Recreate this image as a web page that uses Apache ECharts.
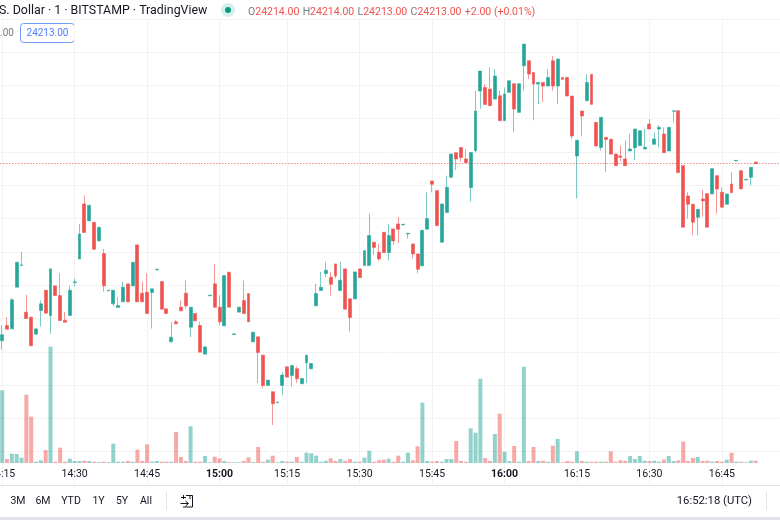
<!DOCTYPE html>
<html>
<head>
<meta charset="utf-8">
<title>BTC/USD 1 min</title>
<script src="https://cdn.jsdelivr.net/npm/echarts@6/dist/echarts.min.js"></script>
<style>
html, body { margin: 0; padding: 0; background: #fff; overflow: hidden; }
#chart { width: 780px; height: 520px; }
</style>
</head>
<body>
<div id="chart"></div>
<script>
// minutes, first one is an empty slot left of the first bar, last ones are the empty space on the right
var times = [
    '14:14', '14:15', '14:16', '14:17', '14:18', '14:19', '14:20', '14:21', '14:22', '14:23', '14:24', '14:25', '14:26', '14:27', '14:28', '14:29',
    '14:30', '14:31', '14:32', '14:33', '14:34', '14:35', '14:36', '14:37', '14:38', '14:39', '14:40', '14:41', '14:42', '14:43', '14:44',
    '14:45', '14:46', '14:47', '14:48', '14:49', '14:50', '14:51', '14:52', '14:53', '14:54', '14:55', '14:56', '14:57', '14:58', '14:59',
    '15:00', '15:01', '15:02', '15:03', '15:04', '15:05', '15:06', '15:08', '15:09', '15:10', '15:11', '15:12', '15:13', '15:14',
    '15:15', '15:16', '15:17', '15:18', '15:19', '15:20', '15:21', '15:22', '15:23', '15:24', '15:25', '15:26', '15:27', '15:28', '15:29',
    '15:30', '15:31', '15:32', '15:33', '15:34', '15:35', '15:36', '15:37', '15:38', '15:39', '15:40', '15:41', '15:42', '15:43', '15:44',
    '15:45', '15:46', '15:47', '15:48', '15:49', '15:50', '15:51', '15:52', '15:53', '15:54', '15:55', '15:56', '15:57', '15:58', '15:59',
    '16:00', '16:01', '16:02', '16:03', '16:04', '16:05', '16:06', '16:07', '16:08', '16:09', '16:10', '16:11', '16:12', '16:13', '16:14',
    '16:15', '16:16', '16:17', '16:18', '16:19', '16:20', '16:21', '16:22', '16:23', '16:24', '16:25', '16:26', '16:27', '16:28', '16:29',
    '16:30', '16:31', '16:32', '16:33', '16:34', '16:35', '16:36', '16:37', '16:38', '16:39', '16:40', '16:41', '16:42', '16:43', '16:44',
    '16:45', '16:46', '16:47', '16:48', '16:49', '16:50', '16:51', '16:52', '16:53', '16:54', '16:55', '16:56', '16:57'
];
var tickLabels = ['14:15', '14:30', '14:45', '15:00', '15:15', '15:30', '15:45', '16:00', '16:15', '16:30', '16:45'];
var boldLabels = ['15:00', '16:00'];

var opens = [
    24106.6, 24115.8, 24113.8, 24138.8, 24151.8, 24123.8, 24120.8, 24110.6, 24124.8, 24137,
    24121.8, 24139.6, 24133.8, 24119, 24121.8, 24141.6, 24155.8, 24188.8, 24178.6, 24177.8,
    24166.6, 24159, 24136.6, 24128.8, 24126.6, 24130, 24140.8, 24139.6, 24164.2, 24135.2,
    24135.8, 24135.6, 24149.2, 24142.2, 24125.8, 24106, 24118, 24126.8, 24135.2, 24114.8,
    24123, 24115.8, 24098.6, 24133.6, 24140.8, 24126.8, 24115.6, 24147.8, 24110.4, 24123.8,
    24130.8, 24135, 24106, 24109, 24098, 24079.8, 24076, 24069.4, 24079.8, 24091,
    24085.8, 24089.8, 24080.8, 24093.4, 24089.8, 24127.6, 24136.8, 24147, 24144.8, 24152.8,
    24136.8, 24149.8, 24131.8, 24131.8, 24149.8, 24151.8, 24151.8, 24165.8, 24159.8, 24171.8,
    24159.6, 24173.8, 24176.8, 24176.2, 24170.8, 24164.8, 24158.8, 24151.6, 24173.6, 24202.6,
    24196.8, 24165.8, 24183.6, 24204.8, 24219.6, 24222.7, 24215.8, 24198.6, 24220.8, 24256.6,
    24258.8, 24257.8, 24251.8, 24253.8, 24238.8, 24255.8, 24261, 24243.8, 24271.8, 24274.8,
    24267.8, 24260.8, 24261.8, 24259.6, 24274.8, 24259.6, 24264.8, 24264.8, 24253.6, 24217.6,
    24244.6, 24250.8, 24266.6, 24237.8, 24222.7, 24228.8, 24227.7, 24218.8, 24217.6, 24215.8,
    24220.6, 24222.6, 24223.8, 24221.8, 24236.8, 24224.6, 24233.8, 24230.8, 24220.6, 24244.4,
    24244.8, 24211.8, 24193.6, 24188.6, 24180.8, 24191.8, 24195, 24194.8, 24205.8, 24195.8,
    24188.6, 24200.8, 24214.6, 24208.8, 24203.2, 24204.8, 24214
];
var closes = [
    24110.2, 24113.6, 24131.2, 24153.8, 24152.2, 24120, 24103.6, 24113.8, 24128.8, 24123.2,
    24149.8, 24133.8, 24118.8, 24117.8, 24137, 24142, 24170.8, 24171.6, 24188, 24161.6,
    24174.8, 24139.6, 24137, 24137, 24127.8, 24138.8, 24130, 24153.8, 24130, 24130,
    24123, 24137.8, 24149.6, 24125.6, 24123, 24108.8, 24116.8, 24124.6, 24127.6, 24126.8,
    24118.6, 24099.8, 24103, 24134, 24126.8, 24118, 24145.8, 24126.8, 24110.8, 24126.8,
    24123, 24118, 24111.8, 24099.6, 24079.8, 24083, 24068.8, 24069.8, 24086, 24084.8,
    24091.8, 24083.8, 24084, 24098, 24093, 24135, 24138.8, 24149, 24140.6, 24145.6,
    24143, 24125.6, 24120.6, 24148, 24144.6, 24160.8, 24169.8, 24162.7, 24155.8, 24159.6,
    24169.8, 24166.6, 24173.6, 24176.6, 24171.2, 24158.8, 24149.6, 24173, 24180, 24200.6,
    24175.8, 24188.8, 24198.8, 24218.8, 24215.8, 24216.7, 24213.6, 24219.7, 24244.6, 24268.6,
    24248.6, 24247.8, 24265.6, 24238.8, 24254.8, 24262.8, 24245.8, 24261, 24284.8, 24266.8,
    24260.8, 24261.8, 24259.6, 24264.8, 24259.6, 24275.8, 24263.6, 24253.6, 24229.6, 24227,
    24241.6, 24261.8, 24248.6, 24223.6, 24240.8, 24227.5, 24218.7, 24211.8, 24216.8, 24211.8,
    24221.8, 24233.8, 24232.8, 24222.8, 24233.8, 24227.8, 24234.8, 24219.6, 24234.8, 24244.8,
    24207.6, 24174.8, 24188.6, 24177.8, 24185.6, 24190.6, 24174.8, 24210, 24197.8, 24186.8,
    24194.8, 24195.6, 24215, 24197.8, 24203.6, 24210.8, 24213
];
var lows = [
    24101.2, 24113.6, 24113.8, 24138.8, 24151.8, 24120, 24103.6, 24110.6, 24115.2, 24123.2,
    24110.8, 24133.8, 24118.8, 24117.8, 24121.8, 24139.2, 24155.8, 24171.6, 24178.6, 24161.6,
    24166.6, 24136.2, 24136.6, 24127.2, 24126.6, 24130, 24130, 24139.6, 24130, 24130,
    24123, 24114, 24149.2, 24125.6, 24123, 24106, 24116.6, 24124.6, 24126, 24108.8,
    24118.6, 24099.8, 24098.6, 24133.6, 24126.8, 24115.8, 24115.6, 24126.8, 24110.4, 24123.8,
    24123, 24118, 24106, 24081.2, 24078.2, 24079.8, 24056, 24069.4, 24074.2, 24084.8,
    24079.2, 24081.2, 24080.8, 24081.2, 24089.8, 24127.6, 24136.8, 24144.8, 24133.8, 24144,
    24136.8, 24125.6, 24112.2, 24131.8, 24144.6, 24151.8, 24151.8, 24158.1, 24154.8, 24159.6,
    24154.8, 24164.2, 24165.2, 24176.2, 24168, 24156.2, 24147.2, 24151.6, 24173.6, 24195.8,
    24175.8, 24165.8, 24183.6, 24204.8, 24209.2, 24214.2, 24213.6, 24190.2, 24219.8, 24246,
    24248.6, 24247.8, 24251.8, 24238.8, 24238.8, 24255.8, 24231.8, 24243.8, 24256.8, 24263.8,
    24239, 24248.8, 24250, 24259.6, 24256.8, 24248.8, 24263.6, 24253.6, 24228, 24192.2,
    24229.8, 24250.8, 24248.6, 24223.6, 24221, 24207.8, 24218.7, 24211.8, 24214.2, 24211.8,
    24220.6, 24215.2, 24223.8, 24221.8, 24233.8, 24224.6, 24222.8, 24219.6, 24220.6, 24237.8,
    24207.6, 24174.8, 24180, 24170, 24170, 24181.2, 24174.8, 24194.8, 24183, 24186.8,
    24188.6, 24195.6, 24214.6, 24197.8, 24203.2, 24200, 24213
];
var highs = [
    24116, 24120.8, 24132.4, 24153.8, 24160, 24134.2, 24120.8, 24113.8, 24130.8, 24137,
    24149.8, 24139.6, 24147.2, 24124, 24139.6, 24144, 24176.8, 24194, 24188, 24177.8,
    24174.8, 24161.8, 24137, 24137, 24132.8, 24142, 24140.8, 24153.8, 24164.2, 24142.2,
    24147.2, 24137.8, 24149.6, 24142.2, 24125.8, 24118, 24119, 24130.8, 24143, 24126.8,
    24123, 24118, 24103, 24134, 24152.8, 24134, 24145.8, 24147.8, 24110.8, 24126.8,
    24142.8, 24135, 24111.8, 24109, 24098, 24083, 24076, 24069.8, 24087.8, 24091,
    24091.8, 24091.2, 24084, 24098, 24093, 24140.8, 24148, 24154, 24148, 24152.8,
    24154, 24149.8, 24131.8, 24148, 24149.8, 24160.8, 24183, 24165.8, 24164.8, 24171.8,
    24176.8, 24173.8, 24180.8, 24176.6, 24171.2, 24164.8, 24158.8, 24173, 24195.8, 24202.6,
    24196.8, 24188.8, 24205.8, 24218.8, 24219.6, 24222.7, 24221.8, 24219.7, 24256.8, 24268.6,
    24260.8, 24270.8, 24269.8, 24256.8, 24258.8, 24262.8, 24261, 24261, 24284.8, 24274.8,
    24267.8, 24261.8, 24261.8, 24269.8, 24277.6, 24275.8, 24264.8, 24264.8, 24253.6, 24227,
    24244.6, 24266.6, 24266.6, 24237.8, 24240.8, 24228.8, 24227.7, 24218.8, 24223.8, 24226.8,
    24230.8, 24233.8, 24232.8, 24233.8, 24239.8, 24231.8, 24236.2, 24234.8, 24234.8, 24244.8,
    24244.8, 24211.8, 24195.8, 24188.6, 24185.6, 24197.2, 24195, 24210, 24205.8, 24198.8,
    24194.8, 24207.8, 24215, 24208.8, 24203.6, 24210.8, 24214
];
var volumes = [
    7.27, 0.4, 0.93, 0.9, 0.53, 6.83, 4.63, 0.13, 0.27, 1.3,
    11.63, 0.13, 1.53, 0.13, 0.43, 0.2, 0.2, 0.23, 0.2, 0.13,
    0.1, 0.13, 0.1, 1.93, 0.13, 0.13, 0.2, 0.13, 1.33, 0.2,
    1.87, 0.13, 0.2, 0.13, 0.13, 0.13, 3.1, 0.6, 0.2, 3.67,
    0.13, 0.13, 0.7, 0.07, 0.63, 0.47, 0.2, 0.1, 0.07, 0.07,
    0.2, 0.57, 0.1, 1.6, 0.13, 0.33, 0.73, 0.07, 0.2, 0.13,
    0.13, 0.6, 0.13, 1.03, 0.97, 0.73, 0.13, 0.23, 0.47, 0.2,
    0.4, 0.23, 0.4, 0.13, 0.13, 0.53, 1.23, 0.13, 0.27, 0.33,
    0.43, 0.13, 0.73, 0.13, 1.03, 0.27, 1.67, 6.03, 0.2, 0.13,
    0.2, 0.13, 0.4, 0.4, 2.2, 0.2, 0.13, 3.47, 3.03, 8.43,
    0.5, 0.2, 2.9, 4.93, 1.13, 0.2, 1.7, 0.13, 9.63, 0.2,
    1.6, 0.2, 0.23, 0.13, 1.73, 2.4, 0.07, 0.2, 0.13, 1.17,
    0.2, 0.13, 0.13, 0.13, 0.13, 0.13, 1.17, 0.13, 0.27, 0.23,
    0.7, 0.4, 0.7, 0.23, 0.2, 0.23, 0.13, 0.33, 0.7, 0.2,
    0.27, 2.13, 0.2, 0.5, 0.6, 0.2, 0.23, 0.13, 0.2, 0.13,
    0.33, 1.03, 0.13, 0.13, 0.07, 0.23, 0.23
];
var lastPrice = 24213;
var rangeButtons = ['3M', '6M', 'YTD', '1Y', '5Y', 'All'];

var upColor = '#26a69a';
var downColor = '#ef5350';
var stepX = 4.83;
var gridLeft = 2.2 - stepX;
var gridWidth = (times.length - 1) * stepX;

// candles and volume bars, the empty first slot comes first
var candleData = ['-'];
var volumeData = ['-'];
for (var i = 0; i < opens.length; i++) {
    candleData.push([opens[i], closes[i], lows[i], highs[i]]);
    volumeData.push({
        value: volumes[i],
        itemStyle: {color: closes[i] >= opens[i] ? 'rgba(38,166,154,0.5)' : 'rgba(239,83,80,0.5)'}
    });
}

function isTick(index, value) {
    return tickLabels.indexOf(value) >= 0;
}

function iconLine(points) {
    return {type: 'polyline', shape: {points: points}, style: {fill: 'none', stroke: '#131722', lineWidth: 1}};
}

// text and icons around the plot
var graphics = [
    {type: 'rect', shape: {x: 0, y: 517, width: 780, height: 3}, style: {fill: '#e0e3eb'}},
    {type: 'text', x: -1, y: 11, style: {text: 'S. Dollar · 1 · BITSTAMP · TradingView', fill: '#131722', font: '12.4px Roboto', verticalAlign: 'middle'}},
    {type: 'circle', shape: {cx: 228, cy: 10, r: 7}, style: {fill: '#d7efec'}},
    {type: 'circle', shape: {cx: 228, cy: 10, r: 3}, style: {fill: '#089981'}},
    {type: 'text', x: 248, y: 12, style: {
        text: '{g|O}{r|24214.00} {g|H}{r|24214.00} {g|L}{r|24213.00} {g|C}{r|24213.00} {r|+2.00 (+0.01%)}',
        verticalAlign: 'middle',
        rich: {
            g: {fill: '#787b86', font: '10.5px Roboto'},
            r: {fill: downColor, font: '10.5px Roboto'}
        }
    }},
    {type: 'text', x: 0, y: 33, style: {text: '.00', fill: '#787b86', font: '10px Roboto', verticalAlign: 'middle'}},
    {type: 'rect', shape: {x: 20.5, y: 23.5, width: 54, height: 19, r: 3}, style: {fill: '#fff', stroke: '#6f9bfb', lineWidth: 1}},
    {type: 'text', x: 47.5, y: 33.5, style: {text: '24213.00', fill: '#4d7cfe', font: '10px Roboto', align: 'center', verticalAlign: 'middle'}},
    {type: 'line', shape: {x1: 166.5, y1: 492, x2: 166.5, y2: 510}, style: {stroke: '#e0e3eb', lineWidth: 1}},
    iconLine([[186, 495.5], [192.5, 495.5], [192.5, 507], [183, 507]]),
    iconLine([[181, 497.5], [186, 497.5]]),
    iconLine([[183.5, 495], [183.5, 499]]),
    iconLine([[190, 495], [190, 499]]),
    iconLine([[180.5, 503.5], [188, 503.5]]),
    iconLine([[185.5, 501], [188.5, 503.5], [185.5, 506]]),
    {type: 'text', x: 752, y: 501, style: {text: '16:52:18 (UTC)', fill: '#131722', font: '11.3px Roboto', align: 'right', verticalAlign: 'middle'}},
    {type: 'line', shape: {x1: 766.5, y1: 492, x2: 766.5, y2: 510}, style: {stroke: '#e0e3eb', lineWidth: 1}}
];
var buttonX = [18, 43, 71, 98.5, 122, 146];
rangeButtons.forEach(function (text, n) {
    graphics.push({type: 'text', x: buttonX[n], y: 501, style: {text: text, fill: '#131722', font: '10.5px Roboto', align: 'center', verticalAlign: 'middle'}});
});

var chart = echarts.init(document.getElementById('chart'));
chart.setOption({
    animation: false,
    backgroundColor: '#fff',
    graphic: graphics,
    grid: [
        {left: gridLeft, width: gridWidth, top: 18.8, height: 466.2, outerBoundsMode: 'none'},
        {left: gridLeft, width: gridWidth, top: 340, height: 123, outerBoundsMode: 'none'}
    ],
    xAxis: [
        {
            type: 'category',
            data: times,
            gridIndex: 0,
            boundaryGap: false,
            axisLine: {lineStyle: {color: '#e0e3eb', width: 1}},
            axisTick: {show: false},
            splitLine: {show: true, interval: isTick, lineStyle: {color: '#f3f3f4', width: 1}},
            axisLabel: {
                inside: true,
                margin: 5,
                interval: isTick,
                hideOverlap: false,
                fontFamily: 'Roboto',
                fontSize: 10.5,
                color: '#131722',
                formatter: function (value) {
                    return boldLabels.indexOf(value) >= 0 ? '{b|' + value + '}' : value;
                },
                rich: {b: {fontWeight: 'bold', fontFamily: 'Roboto', fontSize: 10.5, color: '#131722'}}
            }
        },
        {
            type: 'category',
            data: times,
            gridIndex: 1,
            boundaryGap: false,
            axisLine: {show: false},
            axisTick: {show: false},
            axisLabel: {show: false},
            splitLine: {show: false}
        }
    ],
    yAxis: [
        {
            type: 'value',
            gridIndex: 0,
            min: 24020,
            max: 24300,
            interval: 20,
            axisLine: {show: false},
            axisTick: {show: false},
            axisLabel: {show: false},
            splitLine: {show: true, lineStyle: {color: '#f3f3f4', width: 1}}
        },
        {
            type: 'value',
            gridIndex: 1,
            min: 0,
            max: 12.3,
            axisLine: {show: false},
            axisTick: {show: false},
            axisLabel: {show: false},
            splitLine: {show: false}
        }
    ],
    series: [
        {
            name: 'Volume',
            type: 'bar',
            xAxisIndex: 1,
            yAxisIndex: 1,
            barWidth: 4,
            data: volumeData
        },
        {
            name: 'BTCUSD',
            type: 'candlestick',
            xAxisIndex: 0,
            yAxisIndex: 0,
            barWidth: 3.4,
            data: candleData,
            itemStyle: {
                color: upColor,
                color0: downColor,
                borderColor: 'rgba(38,166,154,0.6)',
                borderColor0: 'rgba(239,83,80,0.6)',
                borderWidth: 1
            },
            markLine: {
                silent: true,
                symbol: 'none',
                label: {show: false},
                lineStyle: {color: '#ef5350', type: [1, 2], width: 1},
                data: [{yAxis: lastPrice}]
            }
        }
    ]
});
</script>
</body>
</html>
